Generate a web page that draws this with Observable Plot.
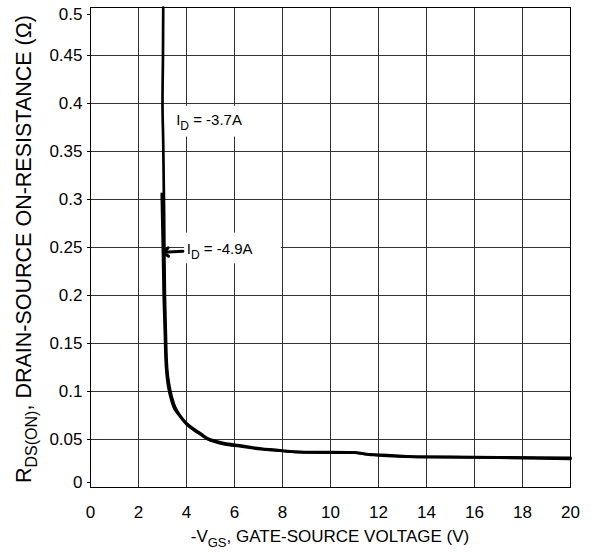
<!DOCTYPE html>
<html><head><meta charset="utf-8">
<script src="https://cdn.jsdelivr.net/npm/d3@7"></script>
<script src="https://cdn.jsdelivr.net/npm/@observablehq/plot@0.6"></script>
<style>body{margin:0;background:#fff} #chart{width:592px;height:552px}</style>
</head><body><div id="chart"></div>
<script>
// Axis ticks
const xTicks = [0, 2, 4, 6, 8, 10, 12, 14, 16, 18, 20];
const yTicks = [0, 0.05, 0.1, 0.15, 0.2, 0.25, 0.3, 0.35, 0.4, 0.45, 0.5];

// Series: I_D = -3.7A
const vgs37 = [3.03, 3.02, 3.0, 3.03, 3.05, 3.07, 3.08, 3.1, 3.14, 3.19, 3.27, 3.38, 3.52, 3.7, 4.0, 4.3, 4.6, 5.0, 5.6, 6.2, 7.1, 8.0, 8.9, 10.0, 11.0, 11.6, 12.5, 13.6, 15, 17, 20];
const rds37 = [0.50, 0.45, 0.40, 0.36, 0.32, 0.28, 0.24, 0.20, 0.16, 0.125, 0.108, 0.095, 0.084, 0.076, 0.067, 0.061, 0.056, 0.050, 0.046, 0.044, 0.0405, 0.0385, 0.0368, 0.0368, 0.0365, 0.0345, 0.0335, 0.032, 0.0318, 0.0315, 0.031];

// Series: I_D = -4.9A
const vgs49 = [2.97, 2.99, 3.02, 3.05, 3.1, 3.15, 3.24, 3.36, 3.5, 3.7, 4.0, 4.6, 5.0, 5.6, 6.2, 7.1, 8.0, 8.9, 11.0, 11.6, 13.6, 17, 20];
const rds49 = [0.306, 0.28, 0.245, 0.20, 0.16, 0.125, 0.105, 0.092, 0.082, 0.075, 0.066, 0.055, 0.049, 0.045, 0.043, 0.040, 0.038, 0.0365, 0.0362, 0.0343, 0.0318, 0.031, 0.0298];

// Callout annotations
const callouts = [
  {sub: "D", rest: " = -3.7A", x: 3.59, y: 0.377, bx1: 3.45, bx2: 6.6, by1: 0.365, by2: 0.397},
  {sub: "D", rest: " = -4.9A", x: 4.03, y: 0.243, bx1: 3.92, bx2: 7.95, by1: 0.233, by2: 0.265, ax1: 3.85, ay1: 0.246, ax2: 3.03, ay2: 0.245}
];

const font = "'Liberation Sans', Arial, Helvetica, sans-serif";
const s37 = vgs37.map((v, i) => ({v, r: rds37[i]}));
const s49 = vgs49.map((v, i) => ({v, r: rds49[i]}));
const fmt = d => String(+d.toFixed(2));
const yTop = yTicks.filter(d => d === 0.5);
const yBottom = yTicks.filter(d => d === 0);
const yMidTicks = yTicks.filter(d => d > 0 && d < 0.5);

const chart = Plot.plot({
  width: 592, height: 552,
  marginLeft: 90, marginRight: 22, marginTop: 7, marginBottom: 65,
  style: {fontFamily: font, fontSize: "17px", color: "black", background: "white"},
  x: {domain: [0, 20]},
  y: {domain: [0, 0.5]},
  marks: [
    Plot.gridX(xTicks, {stroke: "#333", strokeOpacity: 1}),
    Plot.gridY(yTicks, {stroke: "#333", strokeOpacity: 1}),
    Plot.rect(callouts, {x1: "bx1", x2: "bx2", y1: "by1", y2: "by2", fill: "white"}),
    Plot.axisX(xTicks, {tickSize: 0, tickPadding: 18, label: null, fontSize: 17}),
    Plot.axisY(yMidTicks, {tickSize: 3, tickPadding: 5, label: null, fontSize: 17, tickFormat: fmt}),
    Plot.axisY(yTop, {tickSize: 3, tickPadding: 5, label: null, fontSize: 17, tickFormat: fmt, dy: 7}),
    Plot.axisY(yBottom, {tickSize: 3, tickPadding: 5, label: null, fontSize: 17, tickFormat: fmt, dy: -5}),
    Plot.line(s37, {x: "v", y: "r", stroke: "black", strokeWidth: 2.7, curve: "monotone-y"}),
    Plot.line(s49, {x: "v", y: "r", stroke: "black", strokeWidth: 2.7, curve: "monotone-y"}),
    Plot.arrow(callouts.filter(c => c.ax1 != null), {x1: "ax1", y1: "ay1", x2: "ax2", y2: "ay2", stroke: "black", strokeWidth: 3, headLength: 12, headAngle: 80}),
    Plot.frame({stroke: "black"})
  ]
});
document.getElementById("chart").appendChild(chart);

const svg = d3.select(chart);
const sx = chart.scale("x"), sy = chart.scale("y");

// Callout labels with subscripts
for (const c of callouts) {
  const t = svg.append("text")
    .attr("x", sx.apply(c.x)).attr("y", sy.apply(c.y))
    .attr("text-anchor", "start")
    .attr("font-family", font).attr("font-size", 15).attr("fill", "black");
  t.append("tspan").text("I");
  t.append("tspan").attr("dy", 5).attr("font-size", 12).text(c.sub);
  t.append("tspan").attr("dy", -5).text(c.rest);
}

// X axis title
const xMid = (sx.range[0] + sx.range[1]) / 2;
const xt = svg.append("text")
  .attr("x", xMid).attr("y", 542).attr("text-anchor", "middle")
  .attr("font-family", font).attr("font-size", 17).attr("fill", "black");
xt.append("tspan").text("-V");
xt.append("tspan").attr("dy", 5).attr("font-size", 13).text("GS");
xt.append("tspan").attr("dy", -5).text(", GATE-SOURCE VOLTAGE (V)");

// Y axis title
const yMid = (sy.range[0] + sy.range[1]) / 2;
const yt = svg.append("text")
  .attr("transform", `translate(31,${yMid + 2}) rotate(-90)`)
  .attr("text-anchor", "middle")
  .attr("font-family", font).attr("font-size", 21.5).attr("fill", "black");
yt.append("tspan").text("R");
yt.append("tspan").attr("dy", 6).attr("font-size", 16).text("DS(ON)");
yt.append("tspan").attr("dy", -6).text(", DRAIN-SOURCE ON-RESISTANCE (Ω)");
</script>
</body></html>
